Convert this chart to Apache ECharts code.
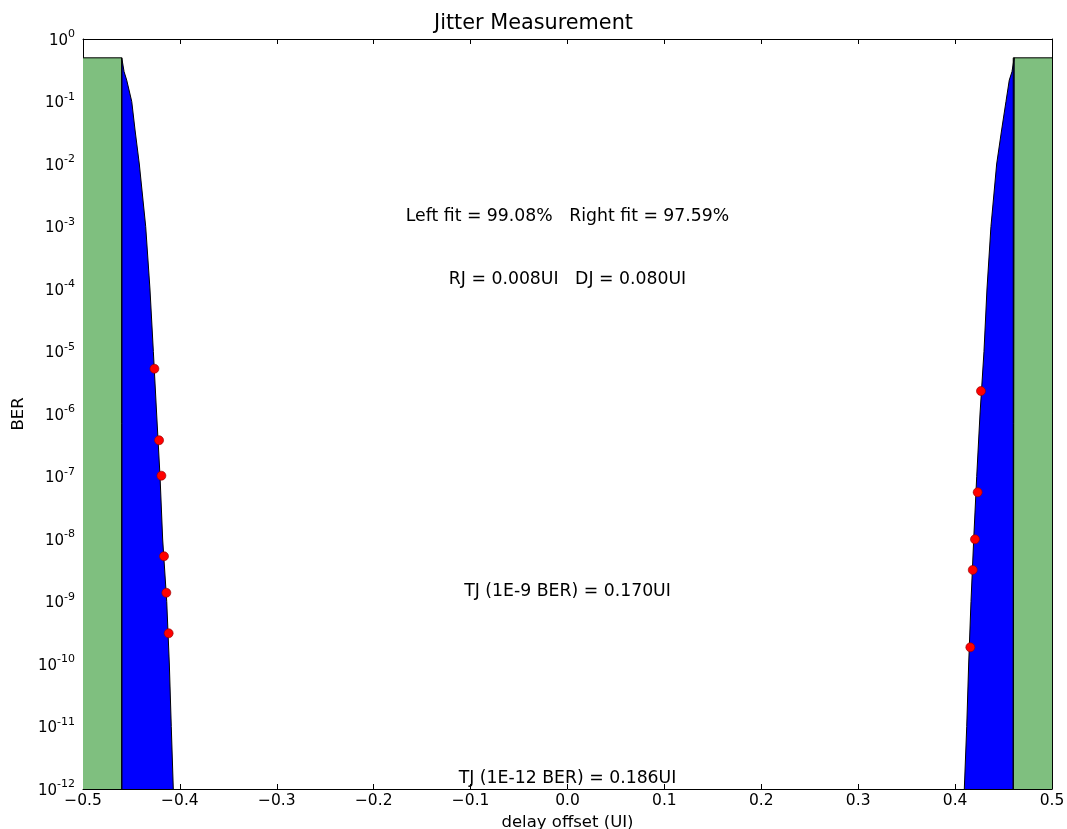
<!DOCTYPE html>
<html>
<head>
<meta charset="utf-8">
<script src="https://cdn.jsdelivr.net/npm/echarts@6/dist/echarts.min.js"></script>
<style>
  html, body { margin: 0; padding: 0; background: #fff; }
  #main { width: 1067px; height: 829px; }
</style>
</head>
<body>
<div id="main"></div>
<script>
// BER levels used for the bathtub fit curves
var curveBER = [0.5, 0.3, 0.22, 0.035, 1e-1, 1e-2, 1e-3, 1e-4, 1e-5, 1e-6, 1e-7, 1e-8, 1e-9, 1e-10, 1e-11, 1e-12];
var leftCurveX = [-0.4600, -0.4576, -0.4549, -0.4463, -0.4497, -0.4419, -0.4353, -0.4309, -0.4274, -0.4240, -0.4205, -0.4178, -0.4136, -0.4109, -0.4089, -0.4068];
var rightCurveX = [0.4610, 0.4587, 0.4559, 0.4480, 0.4525, 0.4429, 0.4370, 0.4329, 0.4298, 0.4257, 0.4223, 0.4192, 0.4164, 0.4140, 0.4120, 0.4095];

// measured points
var leftMeasX = [-0.4263, -0.4215, -0.4191, -0.4164, -0.4140, -0.4116];
var leftMeasBER = [5.3e-6, 3.8e-7, 1.03e-7, 5.3e-9, 1.38e-9, 3.1e-10];
var rightMeasX = [0.4267, 0.4233, 0.4205, 0.4182, 0.4157];
var rightMeasBER = [2.33e-6, 5.6e-8, 9.9e-9, 3.2e-9, 1.85e-10];

// eye opening limits (green bands)
var eyeEdge = [-0.46, 0.46];
var bandTop = 0.5;
var berMin = 1e-12;

var textLines = [
  'Left fit = 99.08%   Right fit = 97.59%',
  'RJ = 0.008UI   DJ = 0.080UI',
  'TJ (1E-9 BER) = 0.170UI',
  'TJ (1E-12 BER) = 0.186UI'
];

function zip(xs, ys) {
  return xs.map(function (x, i) { return [x, ys[i]]; });
}

// curve points sorted by BER (descending) so the fill follows the curve
function curvePts(xs) {
  return zip(xs, curveBER).sort(function (a, b) { return b[1] - a[1]; });
}

var leftBlue = [[eyeEdge[0], berMin]].concat(curvePts(leftCurveX));
var rightBlue = curvePts(rightCurveX).reverse().concat([[eyeEdge[1], berMin]]);
var leftGreen = [[-0.5, bandTop], [eyeEdge[0], bandTop], [eyeEdge[0], berMin]];
var rightGreen = [[eyeEdge[1], berMin], [eyeEdge[1], bandTop], [0.5, bandTop]];

var font = 'DejaVu Sans';

function xFmt(v) {
  var s = Math.abs(v).toFixed(1);
  return (v < -1e-9 ? '\u2212' : '') + s;
}
function yFmt(v) {
  var e = Math.round(Math.log10(v));
  return '{b|10}{s|' + e + '}';
}

function areaLine(data, color) {
  return {
    type: 'line',
    data: data,
    symbol: 'none',
    silent: true,
    lineStyle: { color: '#000', width: 1 },
    areaStyle: { color: color, opacity: 1, origin: 'start' },
    z: 2
  };
}

function dots(data) {
  return {
    type: 'scatter',
    data: data,
    symbolSize: 9,
    itemStyle: { color: '#ff0000', borderColor: '#8b0000', borderWidth: 0.6, opacity: 1 },
    z: 5
  };
}

var chart = echarts.init(document.getElementById('main'));

var gridL = 83, gridT = 39, gridR = 15, gridB = 40;
var cx = gridL + (1067 - gridL - gridR) / 2;
var tickStyle = { inside: true, length: 5, lineStyle: { color: '#000' } };
var lineStyle = { show: true, onZero: false, lineStyle: { color: '#000', width: 1 } };
var txt = function (s, y) {
  return { type: 'text', x: cx, y: y, z: 10,
    style: { text: s, fontFamily: font, fontSize: 17.3, fill: '#000', align: 'center', verticalAlign: 'middle' } };
};

chart.setOption({
  animation: false,
  backgroundColor: '#fff',
  title: {
    text: 'Jitter Measurement',
    left: 'center',
    top: 8,
    textStyle: { fontFamily: font, fontSize: 20.8, fontWeight: 'normal', color: '#000' }
  },
  grid: { left: gridL, right: gridR, top: gridT, bottom: gridB, outerBoundsMode: 'none', containLabel: false },
  xAxis: [{
    type: 'value',
    min: -0.5, max: 0.5, interval: 0.1,
    name: 'delay offset (UI)',
    nameLocation: 'middle',
    nameGap: 23,
    nameTextStyle: { fontFamily: font, fontSize: 16.5, color: '#000' },
    axisLine: lineStyle,
    axisTick: tickStyle,
    axisLabel: { formatter: xFmt, fontFamily: font, fontSize: 15.5, color: '#000', margin: 4 },
    splitLine: { show: false }
  }, {
    type: 'value', position: 'top',
    min: -0.5, max: 0.5, interval: 0.1,
    axisLine: lineStyle,
    axisTick: tickStyle,
    axisLabel: { show: false },
    splitLine: { show: false }
  }],
  yAxis: [{
    type: 'log', logBase: 10,
    min: 1e-12, max: 1, interval: 1,
    name: 'BER',
    nameLocation: 'middle',
    nameGap: 56,
    nameTextStyle: { fontFamily: font, fontSize: 16.5, color: '#000' },
    axisLine: lineStyle,
    axisTick: tickStyle,
    axisLabel: {
      formatter: yFmt, margin: 8,
      rich: {
        b: { fontFamily: font, fontSize: 15, color: '#000', padding: [4, 0, 0, 0] },
        s: { fontFamily: font, fontSize: 11, color: '#000', padding: [0, 0, 9, 0] }
      }
    },
    splitLine: { show: false }
  }, {
    type: 'log', logBase: 10, position: 'right',
    min: 1e-12, max: 1, interval: 1,
    axisLine: lineStyle,
    axisTick: tickStyle,
    axisLabel: { show: false },
    splitLine: { show: false }
  }],
  graphic: [
    txt(textLines[0], 217),
    txt(textLines[1], 280),
    txt(textLines[2], 592),
    txt(textLines[3], 779)
  ],
  series: [
    areaLine(leftGreen, '#7fbf7f'),
    areaLine(rightGreen, '#7fbf7f'),
    areaLine(leftBlue, '#0000ff'),
    areaLine(rightBlue, '#0000ff'),
    dots(zip(leftMeasX, leftMeasBER)),
    dots(zip(rightMeasX, rightMeasBER))
  ]
});
</script>
</body>
</html>
